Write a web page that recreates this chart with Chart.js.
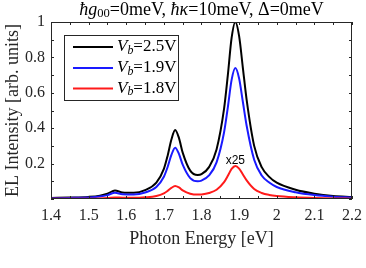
<!DOCTYPE html>
<html>
<head>
<meta charset="utf-8">
<script src="https://cdn.jsdelivr.net/npm/chart.js@4.4.0/dist/chart.umd.min.js"></script>
<style>
  html, body { margin: 0; padding: 0; background: #fff; }
  #wrap { width: 366px; height: 268px; }
</style>
</head>
<body>
<div id="wrap"><canvas id="el" width="366" height="268"></canvas></div>
<script>
// Photon energy grid [eV] (denser around the peaks)
var energy = [1.40, 1.45, 1.50, 1.53, 1.55, 1.57, 1.59, 1.62, 1.65, 1.68, 1.70, 1.71, 1.72, 1.73, 1.74, 1.75, 1.77, 1.79,
    1.80, 1.82, 1.84, 1.86, 1.87, 1.88, 1.89, 1.90, 1.91, 1.92, 1.94, 1.96, 1.98, 2.00, 2.05, 2.10, 2.15, 2.20];

// EL intensity for each bias voltage
var vb25 = [0.006, 0.008, 0.012, 0.019, 0.030, 0.048, 0.037, 0.035, 0.050, 0.092, 0.170, 0.245, 0.336, 0.390, 0.345, 0.262, 0.160, 0.135,
    0.140, 0.180, 0.280, 0.510, 0.700, 0.910, 1.000, 0.920, 0.740, 0.560, 0.300, 0.180, 0.125, 0.092, 0.052, 0.030, 0.017, 0.011];
var vb19 = [0.004, 0.006, 0.009, 0.014, 0.022, 0.036, 0.027, 0.026, 0.037, 0.068, 0.126, 0.181, 0.249, 0.290, 0.255, 0.194, 0.118, 0.100,
    0.104, 0.133, 0.207, 0.377, 0.518, 0.673, 0.740, 0.681, 0.548, 0.414, 0.222, 0.133, 0.093, 0.068, 0.038, 0.022, 0.013, 0.008];
// this one is multiplied by 25 in the figure
var vb18 = [0.001, 0.0015, 0.002, 0.0035, 0.0056, 0.009, 0.007, 0.0065, 0.0094, 0.017, 0.032, 0.046, 0.063, 0.073, 0.065, 0.049, 0.030, 0.025,
    0.026, 0.034, 0.052, 0.095, 0.131, 0.170, 0.187, 0.172, 0.138, 0.105, 0.056, 0.034, 0.023, 0.017, 0.0097, 0.0056, 0.0032, 0.002];

var seriesLabels = ['2.5V', '1.9V', '1.8V'];
var seriesColors = ['#000000', '#1a1aff', '#ff1a1a'];
var seriesData = [vb25, vb19, vb18];

var axisColor = '#262626';
var serif = '"Liberation Serif", "DejaVu Serif", serif';

function pts(ys) {
    return energy.map(function (x, i) { return { x: x, y: ys[i] }; });
}

// text made of pieces (italic / subscript)
function richText(ctx, parts, size) {
    var total = 0;
    parts.forEach(function (p) {
        var s = p.sub ? size * 0.7 : size;
        ctx.font = (p.it ? 'italic ' : '') + s + 'px ' + serif;
        p.w = ctx.measureText(p.t).width;
        total += p.w;
    });
    return {
        total: total,
        draw: function (x, y) {
            parts.forEach(function (p) {
                var s = p.sub ? size * 0.7 : size;
                ctx.font = (p.it ? 'italic ' : '') + s + 'px ' + serif;
                ctx.fillText(p.t, x, y + (p.sub ? size * 0.22 : 0));
                x += p.w;
            });
        }
    };
}

var framePlugin = {
    id: 'frame',
    afterDraw: function (chart) {
        var ctx = chart.ctx;
        var a = chart.chartArea;
        var xs = chart.scales.x, ys = chart.scales.y;
        ctx.save();
        ctx.strokeStyle = axisColor;
        ctx.lineWidth = 1;
        ctx.strokeRect(a.left + 0.5, a.top + 0.5, a.right - a.left - 1, a.bottom - a.top - 1);
        ctx.beginPath();
        xs.ticks.forEach(function (t) {
            var px = Math.round(xs.getPixelForValue(t.value)) + 0.5;
            ctx.moveTo(px, a.bottom); ctx.lineTo(px, a.bottom - 3);
            ctx.moveTo(px, a.top); ctx.lineTo(px, a.top + 3);
        });
        ys.ticks.forEach(function (t) {
            var py = Math.round(ys.getPixelForValue(t.value)) + 0.5;
            ctx.moveTo(a.left, py); ctx.lineTo(a.left + 3, py);
            ctx.moveTo(a.right, py); ctx.lineTo(a.right - 3, py);
        });
        ctx.stroke();

        // title
        ctx.fillStyle = '#000';
        ctx.textBaseline = 'middle';
        ctx.textAlign = 'left';
        var title = richText(ctx, [
            { t: 'ħ', it: true }, { t: 'g', it: true }, { t: '00', sub: true },
            { t: '=0meV, ' }, { t: 'ħκ', it: true }, { t: '=10meV, Δ=0meV' }
        ], 18);
        title.draw((a.left + a.right) / 2 - title.total / 2, 10);

        // legend
        var lx = 64.5, ly = 35.5, lw = 114, lh = 65;
        ctx.fillStyle = '#fff';
        ctx.fillRect(lx, ly, lw, lh);
        ctx.strokeStyle = axisColor;
        ctx.strokeRect(lx, ly, lw, lh);
        var rows = [47, 68, 88.5];
        seriesLabels.forEach(function (lab, i) {
            ctx.strokeStyle = seriesColors[i];
            ctx.lineWidth = 2;
            ctx.beginPath();
            ctx.moveTo(73, rows[i]); ctx.lineTo(113, rows[i]);
            ctx.stroke();
            ctx.fillStyle = '#000';
            richText(ctx, [{ t: 'V', it: true }, { t: 'b', it: true, sub: true }, { t: '=' + lab }], 17).draw(117, rows[i]);
        });

        // scale note on the red curve
        ctx.font = '12px "Liberation Sans", Arial, sans-serif';
        ctx.textAlign = 'center';
        ctx.fillStyle = '#000';
        ctx.fillText('x25', xs.getPixelForValue(1.89), 161);
        ctx.restore();
    }
};

var ctx = document.getElementById('el').getContext('2d');
var elChart = new Chart(ctx, {
    type: 'line',
    data: {
        datasets: seriesData.map(function (d, i) {
            return {
                label: seriesLabels[i],
                data: pts(d),
                borderColor: seriesColors[i],
                borderWidth: 2,
                pointRadius: 0,
                fill: false,
                cubicInterpolationMode: 'monotone'
            };
        }).reverse()
    },
    options: {
        responsive: false,
        animation: false,
        layout: { padding: { top: 22, right: 14, left: 0, bottom: 18 } },
        plugins: {
            legend: { display: false },
            tooltip: { enabled: false }
        },
        scales: {
            x: {
                type: 'linear',
                min: 1.4,
                max: 2.2,
                afterFit: function (s) {
                    s.height = 51;
                    s.paddingLeft = 0;
                    s.paddingRight = 0;
                },
                afterBuildTicks: function (s) {
                    var t = [];
                    for (var k = 0; k <= 16; k++) t.push({ value: 1.4 + k * 0.05 });
                    s.ticks = t;
                },
                grid: { display: false, drawTicks: false, tickLength: 0 },
                border: { display: false },
                ticks: {
                    autoSkip: false,
                    maxRotation: 0,
                    padding: 7,
                    color: axisColor,
                    font: { family: serif, size: 16 },
                    callback: function (v) {
                        var k = Math.round(v * 100);
                        if (k % 10 !== 0) return '';
                        return String(k / 100);
                    }
                },
                title: {
                    display: true,
                    text: 'Photon Energy [eV]',
                    color: axisColor,
                    font: { family: serif, size: 18 },
                    padding: 0
                }
            },
            y: {
                type: 'linear',
                min: 0,
                max: 1,
                afterFit: function (s) { s.width = 51; },
                afterBuildTicks: function (s) {
                    var t = [];
                    for (var k = 0; k <= 10; k++) t.push({ value: k / 10 });
                    s.ticks = t;
                },
                grid: { display: false, drawTicks: false, tickLength: 0 },
                border: { display: false },
                ticks: {
                    autoSkip: false,
                    padding: 6,
                    color: axisColor,
                    font: { family: serif, size: 16 },
                    callback: function (v) {
                        var k = Math.round(v * 10);
                        if (k === 0 || k % 2 !== 0) return '';
                        return String(k / 10);
                    }
                },
                title: {
                    display: true,
                    text: 'EL Intensity [arb. units]',
                    color: axisColor,
                    font: { family: serif, size: 18 },
                    padding: { top: 2, bottom: 0 }
                }
            }
        }
    },
    plugins: [framePlugin]
});
</script>
</body>
</html>
